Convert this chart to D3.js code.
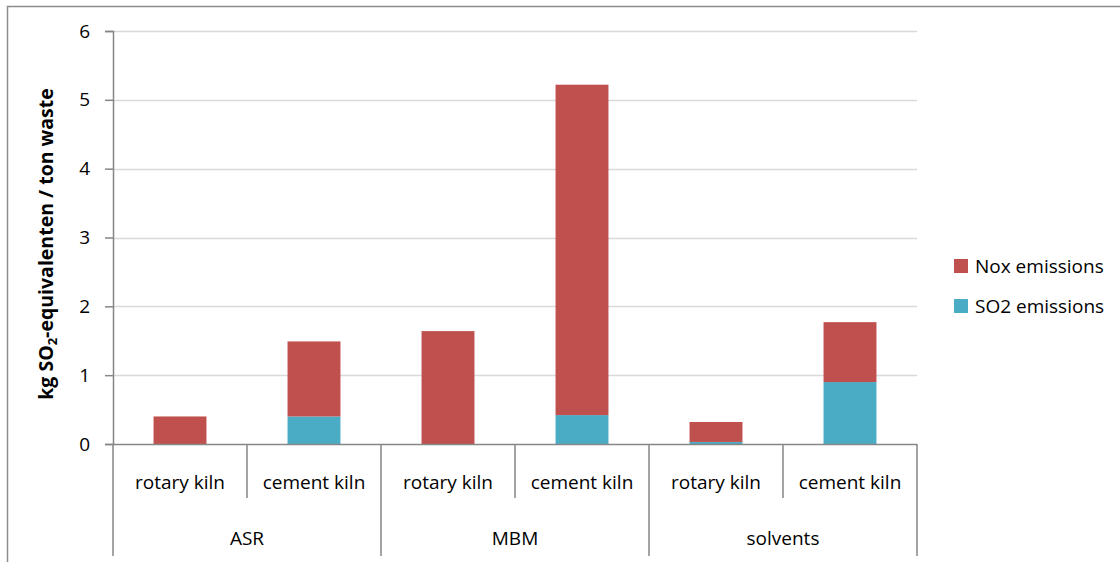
<!DOCTYPE html>
<html>
<head>
<meta charset="utf-8">
<script src="https://cdn.jsdelivr.net/npm/d3@7"></script>
<style>
  html, body { margin: 0; padding: 0; background: #fff; }
  svg { display: block; }
  text { font-family: "Open Sans", sans-serif; fill: #000; }
</style>
</head>
<body>
<svg id="chart" width="1120" height="562"></svg>
<script>
// Emission data, kg SO2-equivalent per ton of waste
const groups = ["ASR", "MBM", "solvents"];
const kilns = ["rotary kiln", "cement kiln"];
const so2Emissions = [0.00, 0.40, 0.00, 0.42, 0.03, 0.90];
const noxEmissions = [0.40, 1.09, 1.64, 4.80, 0.29, 0.87];
const seriesNames = ["Nox emissions", "SO2 emissions"];
const seriesColors = ["#C0504D", "#4BACC6"];
const yTicks = [0, 1, 2, 3, 4, 5, 6];

const svg = d3.select("#chart");
const W = 1120, H = 562;
const plot = { left: 113, right: 917, top: 31, bottom: 444 };
const FONT = 19;

// outer frame (open at the bottom and right, as the chart area is clipped)
svg.append("path")
  .attr("d", `M7.5,${H} V6.5 H${W}`)
  .attr("fill", "none").attr("stroke", "#8c8c8c").attr("stroke-width", 1.5);

// rows: one per rotary/cement bar
const rows = [];
groups.forEach(g => kilns.forEach(k => rows.push({ group: g, kiln: k })));
rows.forEach((r, i) => { r.so2 = so2Emissions[i]; r.nox = noxEmissions[i]; r.key = i; });

const x = d3.scaleBand()
  .domain(rows.map(r => r.key))
  .range([plot.left, plot.right])
  .paddingInner(0.605).paddingOuter(0.3025);

const y = d3.scaleLinear().domain([0, 6]).range([plot.bottom, plot.top]);

// gridlines
svg.append("g").selectAll("line").data(yTicks.filter(t => t > 0)).join("line")
  .attr("x1", plot.left).attr("x2", plot.right)
  .attr("y1", d => Math.round(y(d)) + 0.5).attr("y2", d => Math.round(y(d)) + 0.5)
  .attr("stroke", "#d9d9d9").attr("stroke-width", 1.3);

// stacked bars
const stack = d3.stack().keys(["so2", "nox"]);
const layers = stack(rows);
const colorFor = { so2: seriesColors[1], nox: seriesColors[0] };
svg.append("g").selectAll("g").data(layers).join("g")
  .attr("fill", d => colorFor[d.key])
  .selectAll("rect").data(d => d).join("rect")
  .attr("x", d => x(d.data.key))
  .attr("width", x.bandwidth())
  .attr("y", d => y(d[1]))
  .attr("height", d => y(d[0]) - y(d[1]));

// y axis
const yAxis = d3.axisLeft(y).tickValues(yTicks).tickSize(8).tickPadding(15).tickFormat(d3.format("d"));
const ya = svg.append("g").attr("transform", `translate(${plot.left},0)`).call(yAxis);
ya.select(".domain").attr("stroke", "#868686").attr("stroke-width", 1.5);
ya.selectAll(".tick line").attr("stroke", "#868686").attr("stroke-width", 1.5);
ya.selectAll(".tick text").attr("font-size", FONT).attr("font-family", "'Open Sans', sans-serif").attr("fill", "#000");

// x axis baseline
svg.append("line")
  .attr("x1", plot.left).attr("x2", plot.right)
  .attr("y1", plot.bottom + 0.5).attr("y2", plot.bottom + 0.5)
  .attr("stroke", "#868686").attr("stroke-width", 1.5);

const step = x.step();
const innerBottom = 498, outerBottom = 556;

// dividers between kiln types inside a group
groups.forEach((g, gi) => {
  const xm = plot.left + step * (gi * 2 + 1);
  svg.append("line").attr("x1", xm).attr("x2", xm)
    .attr("y1", plot.bottom).attr("y2", innerBottom)
    .attr("stroke", "#868686").attr("stroke-width", 1.5);
});
// group dividers
d3.range(groups.length + 1).forEach(i => {
  const xg = plot.left + step * 2 * i;
  svg.append("line").attr("x1", xg).attr("x2", xg)
    .attr("y1", plot.bottom).attr("y2", outerBottom)
    .attr("stroke", "#868686").attr("stroke-width", 1.5);
});

// kiln labels
svg.append("g").selectAll("text").data(rows).join("text")
  .attr("x", d => x(d.key) + x.bandwidth() / 2)
  .attr("y", 489)
  .attr("text-anchor", "middle").attr("font-size", FONT)
  .text(d => d.kiln);

// group labels
svg.append("g").selectAll("text").data(groups).join("text")
  .attr("x", (d, i) => plot.left + step * (2 * i + 1))
  .attr("y", 545)
  .attr("text-anchor", "middle").attr("font-size", FONT)
  .text(d => d);

// y axis title with subscript
const yt = svg.append("text")
  .attr("transform", "translate(53,244) rotate(-90)")
  .attr("text-anchor", "middle").attr("font-size", 19.5).attr("font-weight", "bold");
yt.append("tspan").text("kg SO");
yt.append("tspan").attr("font-size", 13).attr("dy", 4).text("2");
yt.append("tspan").attr("dy", -4).text("-equivalenten / ton waste");

// legend
const legend = svg.append("g").attr("transform", "translate(954,259)");
seriesNames.forEach((name, i) => {
  const g = legend.append("g").attr("transform", `translate(0,${i * 40})`);
  g.append("rect").attr("width", 14).attr("height", 14).attr("fill", seriesColors[i]);
  g.append("text").attr("x", 21).attr("y", 14).attr("font-size", FONT).text(name);
});
</script>
</body>
</html>
